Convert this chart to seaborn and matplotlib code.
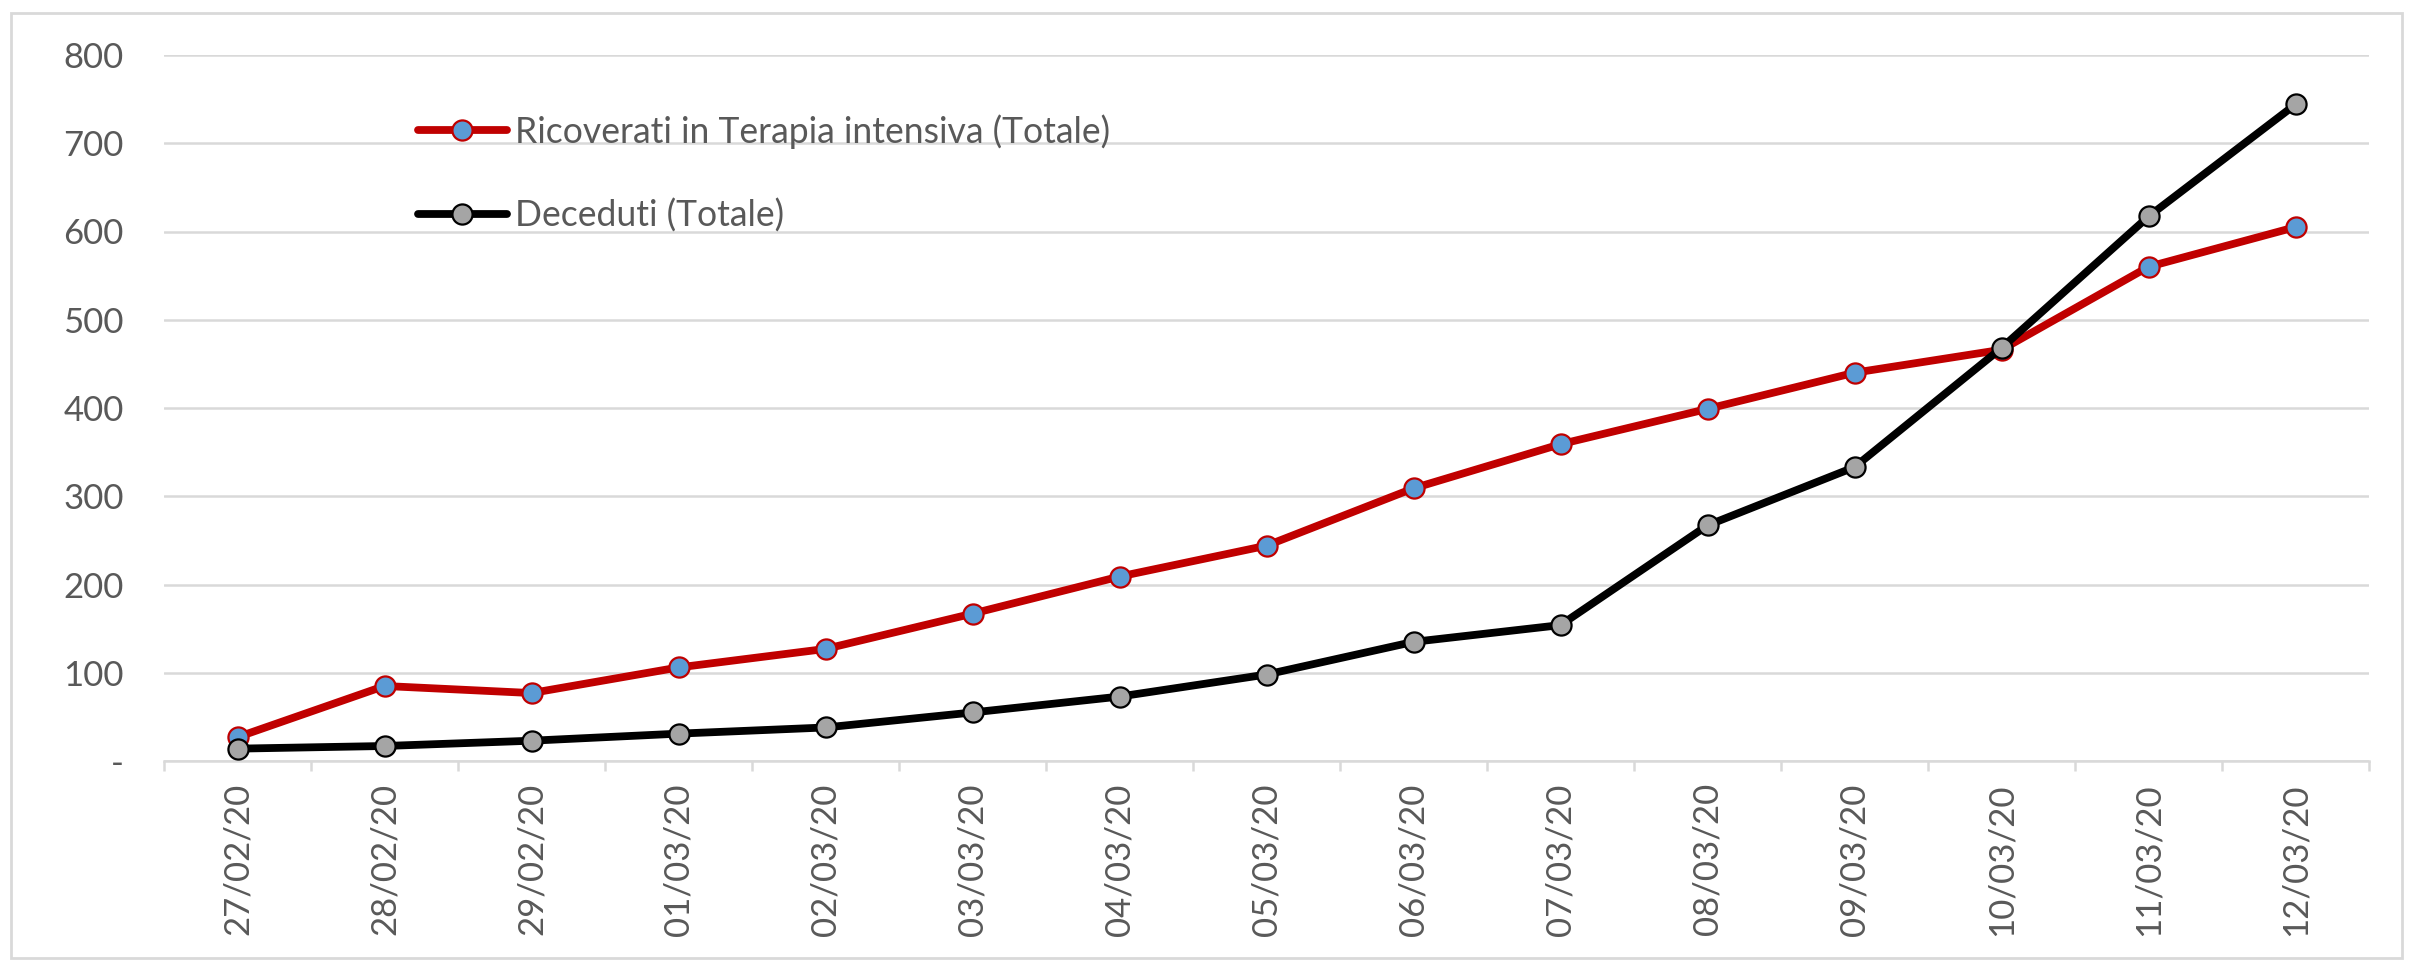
import matplotlib
matplotlib.use("Agg")
import matplotlib.pyplot as plt
from matplotlib.patches import Rectangle
from matplotlib.lines import Line2D
import seaborn as sns
import pandas as pd
import numpy as np

dates = ["27/02/20", "28/02/20", "29/02/20", "01/03/20", "02/03/20", "03/03/20",
         "04/03/20", "05/03/20", "06/03/20", "07/03/20", "08/03/20", "09/03/20",
         "10/03/20", "11/03/20", "12/03/20"]
terapia_intensiva = [27, 85, 77, 106, 127, 167, 209, 244, 309, 359, 399, 440, 466, 560, 605]
deceduti = [14, 17, 23, 31, 38, 55, 73, 98, 135, 154, 267, 333, 468, 617, 744]
label_ti = "Ricoverati in Terapia intensiva (Totale)"
label_dec = "Deceduti (Totale)"
y_ticks = [0, 100, 200, 300, 400, 500, 600, 700, 800]
y_ticklabels = ["-", "100", "200", "300", "400", "500", "600", "700", "800"]

sns.set_theme(style="white")
plt.rcParams["font.family"] = ["Lato", "DejaVu Sans"]

W, H = 2410, 966
fig = plt.figure(figsize=(W / 100, H / 100), dpi=100)
left, right, top, bottom = 164, 2369, 55, 761
ax = fig.add_axes([left / W, 1 - bottom / H, (right - left) / W, (bottom - top) / H])

df_ti = pd.DataFrame({"data": dates, "valore": terapia_intensiva})
df_dec = pd.DataFrame({"data": dates, "valore": deceduti})

red = "#C00000"
grey_txt = "#595959"
grid_c = "#D9D9D9"
FS = 25
LW = 5.6
MS = 14.5
MEW = 1.6

sns.lineplot(data=df_ti, x="data", y="valore", ax=ax, color=red, lw=LW, sort=False,
             marker="o", markersize=MS, markerfacecolor="#5B9BD5",
             markeredgecolor=red, markeredgewidth=MEW, zorder=3)
sns.lineplot(data=df_dec, x="data", y="valore", ax=ax, color="black", lw=LW, sort=False,
             marker="o", markersize=MS, markerfacecolor="#A5A5A5",
             markeredgecolor="black", markeredgewidth=MEW, zorder=4)

ax.set_xlim(-0.5, len(dates) - 0.5)
ax.set_ylim(0, 800)
ax.set_yticks(y_ticks)
ax.set_yticklabels(y_ticklabels)
ax.set_xticks(range(len(dates)))
ax.set_xticklabels(dates, rotation=90)
ax.set_xticks(np.arange(-0.5, len(dates), 1.0), minor=True)
ax.set_xlabel("")
ax.set_ylabel("")

ax.yaxis.grid(True, color=grid_c, lw=1.8)
ax.xaxis.grid(False)
ax.set_axisbelow(True)
for s in ["left", "right", "top"]:
    ax.spines[s].set_visible(False)
ax.spines["bottom"].set_color(grid_c)
ax.spines["bottom"].set_linewidth(1.8)

ax.tick_params(axis="y", length=0, pad=29, labelsize=FS, labelcolor=grey_txt)
ax.tick_params(axis="x", which="major", length=0, pad=16, labelsize=FS, labelcolor=grey_txt)
ax.tick_params(axis="x", which="minor", length=7, width=1.8, color=grid_c, bottom=True)

handles = [
    Line2D([], [], color=red, lw=LW, marker="o", markersize=MS,
           markerfacecolor="#5B9BD5", markeredgecolor=red, markeredgewidth=MEW),
    Line2D([], [], color="black", lw=LW, marker="o", markersize=MS,
           markerfacecolor="#A5A5A5", markeredgecolor="black", markeredgewidth=MEW),
]
leg = ax.legend(handles, [label_ti, label_dec], loc="upper left",
                bbox_to_anchor=(418 / W, 1 - 114 / H), bbox_transform=fig.transFigure,
                frameon=False, fontsize=25.6, handlelength=2.5, handletextpad=0.23,
                labelspacing=1.4, borderpad=0, borderaxespad=0)
for t in leg.get_texts():
    t.set_color(grey_txt)

fig.patches.append(Rectangle((11 / W, 8 / H), (W - 19) / W, (H - 21) / H,
                             transform=fig.transFigure, fill=False,
                             edgecolor=grid_c, lw=2))

fig.savefig("out.png", dpi=100)
